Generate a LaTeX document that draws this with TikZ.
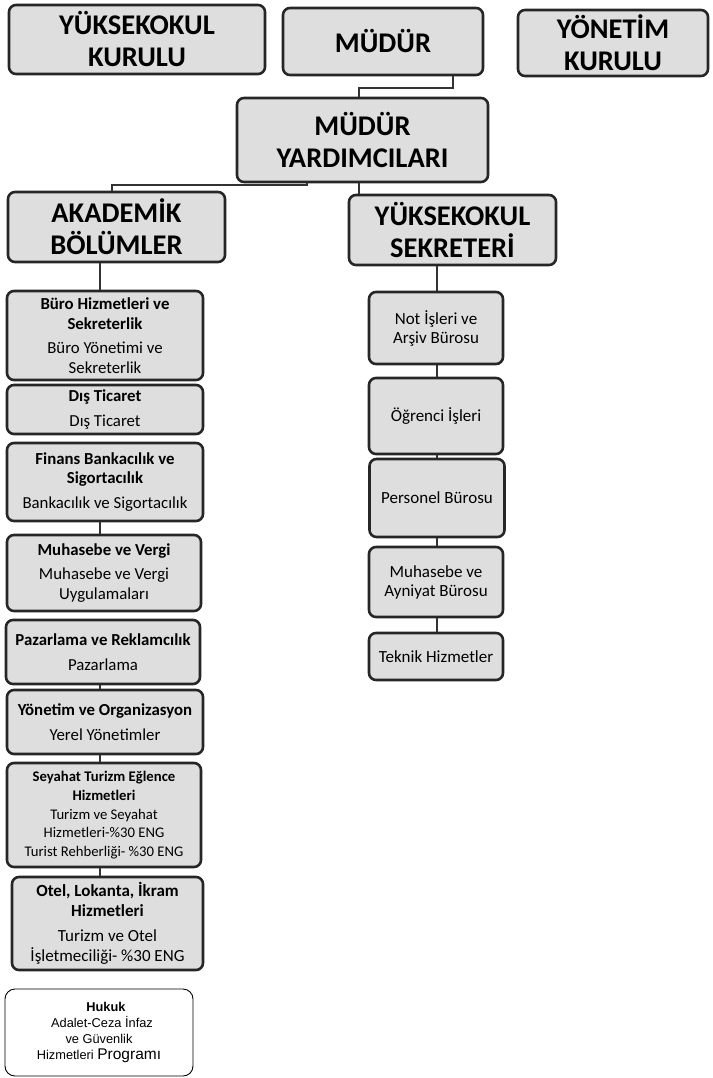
\documentclass[tikz,border=0pt]{standalone}
\usepackage{fontspec}
\setmainfont{Carlito}
\newfontfamily\arialf{Liberation Sans}
\begin{document}
\begin{tikzpicture}[x=1pt,y=-1pt,
  bx/.style={draw=black!85, line width=2.6pt, rounded corners=7pt, fill=black!13, align=center, inner sep=2pt},
  ttl/.style={bx, font=\fontsize{28.5}{32}\selectfont\bfseries},
  col/.style={bx, font=\fontsize{16.8}{19.5}\selectfont},
  rcol/.style={bx, font=\fontsize{17}{19}\selectfont},
  hk/.style={draw=black, line width=0.9pt, rounded corners=10pt, fill=white, align=center, font=\arialf\fontsize{12.8}{16}\selectfont},
  conn/.style={draw=black!80, line width=2.4pt}]
\useasboundingbox (0,0) rectangle (712,1078);
% top row
\node[ttl, minimum width=256pt, minimum height=69pt] (yk) at (137,39.5) {YÜKSEKOKUL\\KURULU};
\node[ttl, minimum width=200pt, minimum height=67pt] (md) at (383,41.5) {MÜDÜR};
\node[ttl, minimum width=190pt, minimum height=66pt] (yn) at (613,43) {YÖNETİM\\KURULU};
\node[ttl, minimum width=251pt, minimum height=84pt] (my) at (362.5,140) {MÜDÜR\\YARDIMCILARI};
\node[ttl, minimum width=217pt, minimum height=70pt] (ak) at (116.5,227) {AKADEMİK\\BÖLÜMLER};
\node[ttl, minimum width=207pt, minimum height=70pt] (ys) at (452.5,230) {YÜKSEKOKUL\\SEKRETERİ};
% left column
\node[col, minimum width=196pt, minimum height=89pt] (b1) at (105,335.5) {\textbf{Büro Hizmetleri ve}\\\textbf{Sekreterlik}\\[5pt]Büro Yönetimi ve\\Sekreterlik};
\node[col, minimum width=196pt, minimum height=49pt] (b2) at (105,409.5) {\textbf{Dış Ticaret}\\[5pt]Dış Ticaret};
\node[col, minimum width=196pt, minimum height=78pt] (b3) at (105,482) {\textbf{Finans Bankacılık ve}\\\textbf{Sigortacılık}\\[5pt]Bankacılık ve Sigortacılık};
\node[col, minimum width=194pt, minimum height=76pt] (b4) at (104,573) {\textbf{Muhasebe ve Vergi}\\[5pt]Muhasebe ve Vergi\\Uygulamaları};
\node[col, minimum width=194pt, minimum height=64pt] (b5) at (103,652) {\textbf{Pazarlama ve Reklamcılık}\\[5pt]Pazarlama};
\node[col, minimum width=196pt, minimum height=64pt] (b6) at (105,722) {\textbf{Yönetim ve Organizasyon}\\[5pt]Yerel Yönetimler};
\node[bx, font=\fontsize{14.7}{18.3}\selectfont, minimum width=194pt, minimum height=104pt] (b7) at (104,815) {\textbf{Seyahat Turizm Eğlence}\\\textbf{Hizmetleri}\\[1pt]Turizm ve Seyahat\\Hizmetleri-\%30 ENG\\Turist Rehberliği- \%30 ENG};
\node[bx, font=\fontsize{17}{20}\selectfont, minimum width=191pt, minimum height=93pt] (b8) at (107.5,923.5) {\textbf{Otel, Lokanta, İkram}\\\textbf{Hizmetleri}\\[5pt]Turizm ve Otel\\İşletmeciliği- \%30 ENG};
\node[hk, minimum width=188pt, minimum height=87pt] (hu) at (99,1032.5) {\hspace*{14pt}\textbf{Hukuk}\\\hspace*{6pt}Adalet-Ceza İnfaz\\ve Güvenlik\\Hizmetleri {\fontsize{15.5}{16}\selectfont Programı}};
% right column
\node[rcol, minimum width=134pt, minimum height=72pt] (r1) at (436,328) {Not İşleri ve\\Arşiv Bürosu};
\node[rcol, minimum width=134pt, minimum height=76pt] (r2) at (436,416) {Öğrenci İşleri};
\node[rcol, minimum width=135pt, minimum height=78pt] (r3) at (437,498) {Personel Bürosu};
\node[rcol, minimum width=134pt, minimum height=70pt] (r4) at (436,582) {Muhasebe ve\\Ayniyat Bürosu};
\node[rcol, minimum width=134pt, minimum height=47pt] (r5) at (436,656.5) {Teknik Hizmetler};
% connectors
\coordinate (c1) at (453,88);
\coordinate (c2) at (359,88);
\coordinate (c3) at (307,185);
\coordinate (c4) at (112,185);
\coordinate (c5) at (359,0);
\coordinate (lc) at (100,0);
\coordinate (rc) at (437,0);
\draw[conn] (c1 |- md.south) -- (c1) -- (c2) -- (c2 |- my.north);
\draw[conn] (c3 |- my.south) -- (c3) -- (c4) -- (c4 |- ak.north);
\draw[conn] (c5 |- my.south) -- (c5 |- ys.north);
\draw[conn] (lc |- ak.south) -- (lc |- b1.north);
\draw[conn] (lc |- b3.south) -- (lc |- b4.north);
\draw[conn] (lc |- b5.south) -- (lc |- b6.north);
\draw[conn] (lc |- b6.south) -- (lc |- b7.north);
\draw[conn] (lc |- b7.south) -- (lc |- b8.north);
\draw[conn] (rc |- ys.south) -- (rc |- r1.north);
\draw[conn] (rc |- r1.south) -- (rc |- r2.north);
\draw[conn] (rc |- r2.south) -- (rc |- r3.north);
\draw[conn] (rc |- r3.south) -- (rc |- r4.north);
\draw[conn] (rc |- r4.south) -- (rc |- r5.north);
\end{tikzpicture}
\end{document}
